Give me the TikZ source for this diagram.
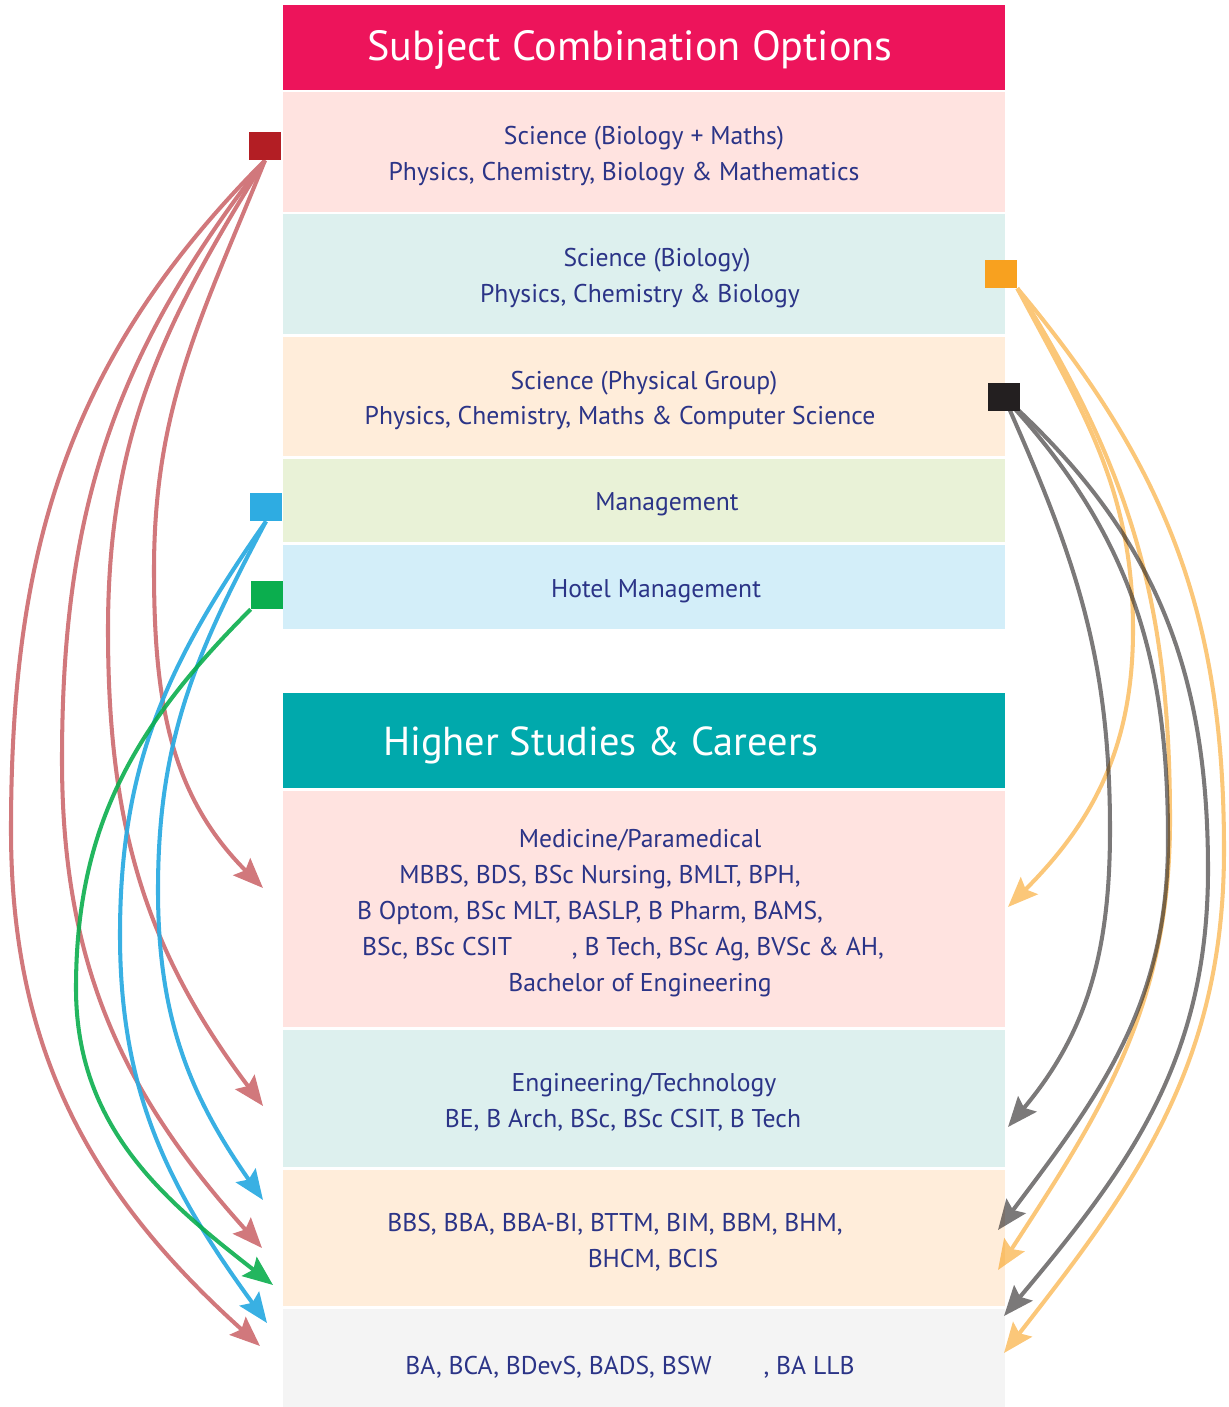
\documentclass[tikz,border=0pt]{standalone}
\usepackage{fontspec}
\setmainfont{PT Sans}
\usetikzlibrary{arrows.meta}

\definecolor{hdrpink}{RGB}{237,20,91}
\definecolor{hdrteal}{RGB}{0,169,172}
\definecolor{rowpink}{RGB}{255,227,224}
\definecolor{rowteal}{RGB}{221,240,238}
\definecolor{rowpeach}{RGB}{255,237,218}
\definecolor{rowgreen}{RGB}{233,242,215}
\definecolor{rowblue}{RGB}{211,238,249}
\definecolor{rowgrey}{RGB}{244,244,244}
\definecolor{navy}{RGB}{43,52,135}
\definecolor{mkred}{RGB}{179,30,36}
\definecolor{mkorange}{RGB}{248,161,31}
\definecolor{mkblack}{RGB}{35,31,32}
\definecolor{mkblue}{RGB}{46,172,226}
\definecolor{mkgreen}{RGB}{11,174,78}

\newcommand{\txtpad}[1]{\makebox[#1]{}}

\tikzset{%
  row/.style     = {rectangle, inner sep=0pt, minimum width=14.44cm},%
  rowtext/.style = {text=navy, align=center, yshift=-0.08cm,%
                    font=\fontsize{14.6}{20.4}\selectfont},%
  hdrtext/.style = {text=white, yshift=-0.04cm, font=\fontsize{24}{28}\selectfont},%
  marker/.style  = {rectangle, inner sep=0pt, minimum width=0.64cm, minimum height=0.56cm},%
  flow/.style    = {line width=2.3pt, -{Stealth[length=0.6cm, width=0.48cm, inset=0.1cm]}}%
}

\begin{document}
\begin{tikzpicture}[x=0.02cm, y=-0.02cm]
	\useasboundingbox (0,0) rectangle (1228,1407);
	% subject combination options
	\node[row, fill=hdrpink, minimum height=1.7cm,
		label={[hdrtext, xshift=-0.28cm]center:{Subject Combination Options}}] (sco) at (644,47.5) {};
	\node[row, fill=rowpink, minimum height=2.4cm,
		label={[rowtext]center:{Science (Biology + Maths)\\Physics, Chemistry, Biology \& Mathematics\txtpad{0.8cm}}}] (bm) at (644,152) {};
	\node[row, fill=rowteal, minimum height=2.4cm,
		label={[rowtext, xshift=0.26cm]center:{Science (Biology)\\Physics, Chemistry \& Biology\txtpad{0.68cm}}}] (bio) at (644,274) {};
	\node[row, fill=rowpeach, minimum height=2.38cm,
		label={[rowtext]center:{Science (Physical Group)\\Physics, Chemistry, Maths \& Computer Science\txtpad{0.96cm}}}] (phy) at (644,396.5) {};
	\node[row, fill=rowgreen, minimum height=1.66cm,
		label={[rowtext, xshift=0.46cm]center:{Management}}] (mgmt) at (644,500.5) {};
	\node[row, fill=rowblue, minimum height=1.68cm,
		label={[rowtext, xshift=0.24cm]center:{Hotel Management}}] (hotel) at (644,587) {};
	% higher studies and careers
	\node[row, fill=hdrteal, minimum height=1.9cm,
		label={[hdrtext, font=\fontsize{23}{27}\selectfont, xshift=-0.86cm, yshift=-0.06cm]center:{Higher Studies \& Careers}}] (hsc) at (644,740.5) {};
	\node[row, fill=rowpink, minimum height=4.72cm,
		label={[rowtext, xshift=-0.08cm]center:{Medicine/Paramedical\\MBBS, BDS, BSc Nursing, BMLT, BPH,\txtpad{1.6cm}\\B Optom, BSc MLT, BASLP, B Pharm, BAMS,\txtpad{2cm}\\BSc, BSc CSIT\txtpad{1.2cm}, B Tech, BSc Ag, BVSc \& AH,\txtpad{0.68cm}\\Bachelor of Engineering}}] (med) at (644,909) {};
	\node[row, fill=rowteal, minimum height=2.74cm,
		label={[rowtext]center:{Engineering/Technology\\BE, B Arch, BSc, BSc CSIT, B Tech\txtpad{0.84cm}}}] (engg) at (644,1098.5) {};
	\node[row, fill=rowpeach, minimum height=2.72cm,
		label={[rowtext, xshift=0.18cm]center:{BBS, BBA, BBA-BI, BTTM, BIM, BBM, BHM,\txtpad{1.52cm}\\BHCM, BCIS}}] (bbs) at (644,1238) {};
	\node[row, fill=rowgrey, minimum height=1.96cm,
		label={[rowtext, xshift=-0.28cm, yshift=-0.1cm]center:{BA, BCA, BDevS, BADS, BSW\txtpad{1.04cm}, BA LLB}}] (ba) at (644,1358) {};

	% markers
	\node[marker, fill=mkred] (redm) at (265,146) {};
	\node[marker, fill=mkorange] (orgm) at (1001,274) {};
	\node[marker, fill=mkblack] (blkm) at (1004,397) {};
	\node[marker, fill=mkblue] (bluem) at (266,507) {};
	\node[marker, fill=mkgreen] (greenm) at (267,595) {};

	% arrow ends
	\coordinate (medL) at (263,888);
	\coordinate (enggL) at (263,1106);
	\coordinate (bbsL) at (262,1248);
	\coordinate (baL) at (260,1346);
	\coordinate (bbsLb) at (263,1200);
	\coordinate (baLb) at (267,1323);
	\coordinate (bbsLg) at (273,1285);
	\coordinate (medR) at (1008,907);
	\coordinate (bbsRo) at (998,1270);
	\coordinate (baRo) at (1004,1353);
	\coordinate (enggR) at (1008,1127);
	\coordinate (bbsRk) at (998,1230);
	\coordinate (baRk) at (1004,1316);

\begin{scope}[transparency group, opacity=.6]
	\draw[flow, mkred] (redm.south) to[out=-112,in=90] (154,570) to[out=-90,in=135] (medL);
	\draw[flow, mkred] (redm.south) to[out=-122,in=90] (108,630) to[out=-90,in=127] (enggL);
	\draw[flow, mkred] (redm.south) to[out=-128,in=90] (62,760) to[out=-90,in=132] (bbsL);
	\draw[flow, mkred] (redm.south) to[out=-135,in=90] (11,830) to[out=-90,in=138] (baL);
\end{scope}
\begin{scope}[transparency group, opacity=.95]
	\draw[flow, mkblue] (bluem.south) to[out=-118,in=90] (158,890) to[out=-90,in=125] (bbsLb);
	\draw[flow, mkblue] (bluem.south) to[out=-125,in=90] (120,935) to[out=-90,in=126] (baLb);
\end{scope}
\begin{scope}[transparency group, opacity=.9]
	\draw[flow, mkgreen] (greenm.south west) to[out=-135,in=90] (76,988) to[out=-90,in=142] (bbsLg);
\end{scope}
\begin{scope}[transparency group, opacity=.6]
	\draw[flow, mkorange] (orgm.south east) to[out=-62,in=90] (1133,630) to[out=-90,in=45] (medR);
	\draw[flow, mkorange] (orgm.south east) to[out=-58,in=90] (1170,820) to[out=-90,in=57] (bbsRo);
	\draw[flow, mkorange] (orgm.south east) to[out=-50,in=90] (1224,850) to[out=-90,in=52] (baRo);
\end{scope}
\begin{scope}[transparency group, opacity=.6]
	\draw[flow, mkblack] (blkm.center) to[out=-66,in=90] (1110,830) to[out=-90,in=50] (enggR);
	\draw[flow, mkblack] (blkm.center) to[out=-47,in=90] (1168,840) to[out=-90,in=53] (bbsRk);
	\draw[flow, mkblack] (blkm.center) to[out=-42,in=90] (1208,870) to[out=-90,in=50] (baRk);
\end{scope}
\end{tikzpicture}
\end{document}
